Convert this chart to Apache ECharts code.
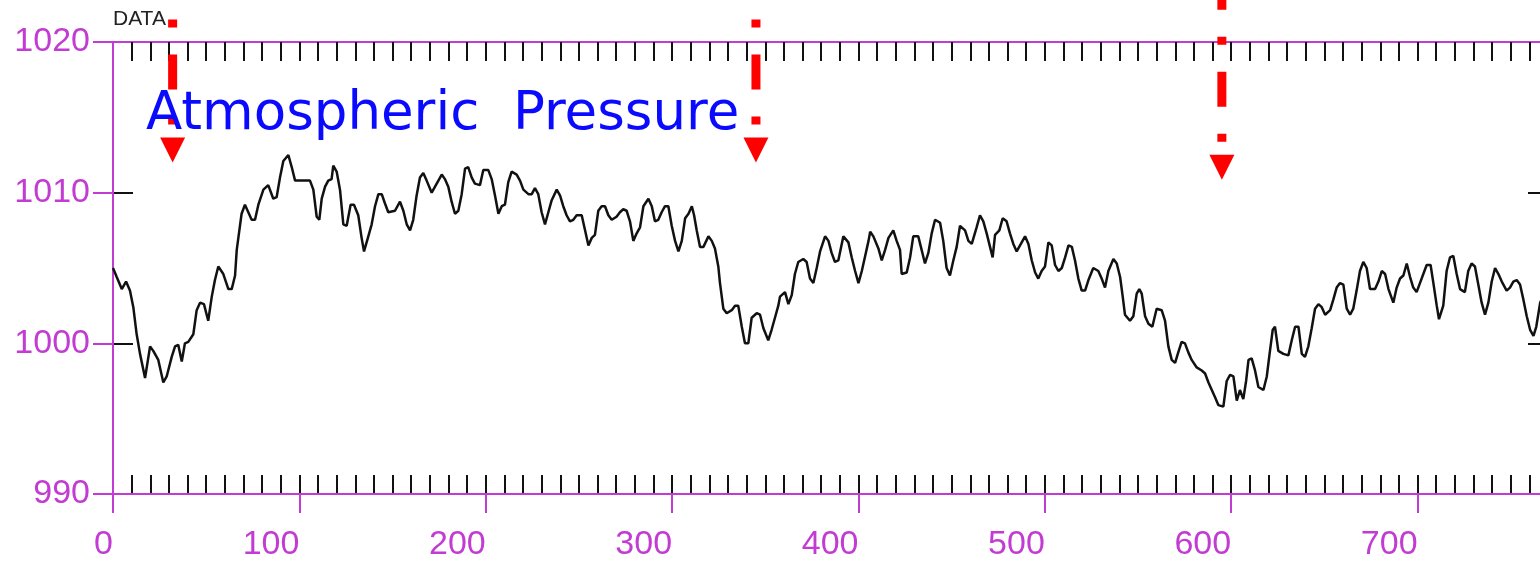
<!DOCTYPE html>
<html>
<head>
<meta charset="utf-8">
<script src="https://cdn.jsdelivr.net/npm/echarts@6/dist/echarts.min.js"></script>
<style>
html, body { margin: 0; padding: 0; background: #ffffff; }
#chart { width: 1540px; height: 563px; }
</style>
</head>
<body>
<div id="chart"></div>
<script>
// Hourly station record: time (hours) and sea-level pressure (hPa)
const hours = [
  0, 2, 4.7, 7, 9.1, 10.9, 12.7, 14.5, 17.2, 19.9, 21.6, 24.3, 27, 28.8, 31.5, 33.3, 35, 36.9, 38.6, 40.4,
  43.1, 44.9, 46.7, 48.8, 51.1, 53, 54.7, 56.5, 59.2, 61.9, 63.7, 65.5, 66.4, 67.8, 69, 70.8, 72.6, 74.4, 76.2, 78,
  80.7, 83.3, 86, 87.8, 89.6, 91.4, 94.1, 95.9, 97.7, 100.3, 105.7, 107.5, 109.3, 110.7, 112, 113.8, 115.5, 117.3, 118.2, 120,
  121.8, 123.6, 125.4, 127.5, 129.3, 131.6, 133.4, 134.7, 137, 138.8, 140.6, 142.4, 144.2, 145.9, 147.7, 151.3, 154, 155.8, 157.6, 159.4,
  161.1, 162.9, 164.7, 166.5, 168.3, 171, 172.8, 174.6, 176.4, 178.1, 179.9, 181.7, 183.5, 185.3, 187.1, 188.9, 190.6, 192.5, 194.2, 196.9,
  198.7, 201.4, 203.2, 205, 206.8, 208.6, 210.3, 212.1, 213.9, 216.6, 218.4, 220.2, 222.9, 224.7, 226.4, 228.2, 230, 231.8, 233.6, 235.4,
  238.1, 239.9, 241.6, 243.4, 245.2, 247, 248.8, 251.5, 253.3, 255.1, 256.9, 258.6, 260.4, 262.2, 264, 265.8, 267.6, 270.2, 272, 273.8,
  275.6, 277.4, 279.2, 281, 282.8, 284.6, 287.3, 289.1, 290.8, 292.6, 294.4, 296.2, 298, 299.8, 301.6, 303.4, 305.2, 307, 308.8, 310.6,
  311.8, 313.2, 315, 316.8, 319.5, 321.3, 323, 324.8, 325.7, 327.5, 329.3, 332, 333.8, 335.5, 337.4, 339.1, 340.9, 342.7, 345.4, 347.2,
  349, 351.6, 353.4, 355.2, 357, 357.9, 360.6, 362.4, 364.2, 365.9, 367.7, 370.4, 372.2, 374, 375.8, 377.6, 379.4, 382.1, 383.9, 385.6,
  387.4, 389.2, 391.9, 394.6, 396.4, 398.2, 400, 401.8, 403.6, 405.4, 406.3, 408, 410.7, 412.5, 414.3, 416.1, 418.7, 420.5, 422.3, 423.2,
  425.9, 427.7, 429.4, 432.1, 433.9, 435.7, 437.5, 439.3, 441.1, 443.8, 445.5, 447.3, 449.1, 450.9, 452.7, 454.5, 457.2, 459, 460.8, 463.4,
  465.2, 467, 468.8, 470.6, 472, 473.3, 475.6, 477.4, 479.5, 481.3, 483.1, 484.9, 486.7, 489.4, 491.2, 493, 494.8, 496.5, 498.3, 500.1,
  501.9, 503.7, 505.5, 507.3, 509.1, 510.9, 512.7, 514.5, 516.2, 518, 519.8, 521.6, 523.4, 526, 528.7, 530.5, 532.3, 534.1, 536.8, 538.6,
  540.4, 541.8, 543, 545.7, 547.5, 549.3, 550.7, 552, 553.8, 555.6, 557.7, 560, 562.7, 564.5, 566.3, 568.1, 569.9, 571.6, 573.4, 575.2,
  577, 578.8, 581.5, 584.2, 586, 587.8, 589.6, 591.4, 593.1, 595.8, 597.6, 599.4, 601.2, 603, 604.7, 606.5, 608, 609.3, 611, 612.8,
  614.6, 617.3, 619.1, 620.5, 622.3, 623.5, 625.3, 628, 630.7, 632.5, 634.3, 636.1, 637.9, 639.6, 641.4, 643.2, 645, 646.8, 648.6, 650.4,
  653.1, 654.8, 656.6, 658.4, 660.2, 662, 663.8, 665.5, 667.3, 669.1, 670.9, 672.7, 674.5, 677.2, 679, 680.8, 682.6, 684.4, 687, 688.8,
  690.6, 692.4, 694.2, 696, 697.7, 699.5, 701.3, 703.1, 704.9, 707, 708.5, 710.3, 711.5, 713.8, 715.6, 717.4, 719.2, 721, 722.8, 725.4,
  727.2, 729, 730.8, 732.6, 734.4, 736.2, 738, 739.8, 741.6, 743.4, 745.2, 747.8, 749.6, 751.4, 753.2, 755, 756.8, 758.6, 760.4, 762.2,
  763.7, 765.8, 768
];
const pressure = [
  1005.0, 1004.4, 1003.6, 1004.1, 1003.5, 1002.4, 1000.6, 999.3, 997.7, 999.8, 999.5, 998.9, 997.4, 997.8, 999.1, 999.8, 999.9, 998.8, 1000.0, 1000.1,
  1000.6, 1002.2, 1002.7, 1002.6, 1001.5, 1003.1, 1004.2, 1005.1, 1004.6, 1003.6, 1003.6, 1004.5, 1006.2, 1007.5, 1008.6, 1009.2, 1008.7, 1008.2, 1008.2, 1009.2,
  1010.2, 1010.5, 1009.6, 1009.7, 1011.0, 1012.1, 1012.5, 1011.7, 1010.8, 1010.8, 1010.8, 1010.2, 1008.4, 1008.2, 1009.6, 1010.4, 1010.8, 1010.9, 1011.8, 1011.4,
  1010.2, 1007.9, 1007.8, 1009.2, 1009.2, 1008.5, 1007.0, 1006.1, 1007.1, 1007.9, 1009.1, 1009.9, 1009.9, 1009.3, 1008.7, 1008.8, 1009.4, 1008.8, 1007.9, 1007.5,
  1008.2, 1009.8, 1011.0, 1011.3, 1010.8, 1010.0, 1010.4, 1010.8, 1011.2, 1010.9, 1010.4, 1009.4, 1008.6, 1008.8, 1009.9, 1011.6, 1011.7, 1011.0, 1010.6, 1010.5,
  1011.5, 1011.5, 1010.9, 1009.8, 1008.6, 1009.1, 1009.2, 1010.7, 1011.4, 1011.2, 1010.8, 1010.2, 1009.9, 1009.9, 1010.3, 1009.9, 1008.7, 1007.9, 1008.7, 1009.5,
  1010.2, 1009.8, 1009.1, 1008.5, 1008.1, 1008.2, 1008.5, 1008.5, 1007.5, 1006.5, 1007.0, 1007.2, 1008.8, 1009.1, 1009.1, 1008.5, 1008.2, 1008.4, 1008.7, 1008.9,
  1008.8, 1008.1, 1006.8, 1007.3, 1007.7, 1009.1, 1009.6, 1009.1, 1008.1, 1008.2, 1008.7, 1009.1, 1009.1, 1007.8, 1006.8, 1006.1, 1006.8, 1008.3, 1008.6, 1009.1,
  1008.5, 1007.5, 1006.4, 1006.4, 1007.1, 1006.8, 1006.3, 1005.1, 1004.0, 1002.3, 1002.0, 1002.2, 1002.5, 1002.5, 1001.1, 1000.0, 1000.0, 1001.7, 1002.0, 1001.9,
  1001.0, 1000.2, 1000.9, 1001.7, 1002.5, 1003.1, 1003.4, 1002.6, 1003.2, 1004.6, 1005.4, 1005.6, 1005.4, 1004.3, 1004.0, 1005.0, 1006.1, 1007.1, 1006.8, 1006.0,
  1005.4, 1005.5, 1007.1, 1006.7, 1005.7, 1004.8, 1004.0, 1004.8, 1005.8, 1006.8, 1007.4, 1007.1, 1006.3, 1005.5, 1006.2, 1007.0, 1007.5, 1006.8, 1006.2, 1004.6,
  1004.7, 1005.7, 1007.1, 1007.1, 1006.2, 1005.3, 1006.0, 1007.3, 1008.2, 1008.0, 1006.8, 1005.0, 1004.5, 1005.5, 1006.4, 1007.8, 1007.5, 1006.8, 1006.6, 1007.7,
  1008.5, 1008.1, 1007.3, 1006.4, 1005.7, 1007.2, 1007.5, 1008.3, 1008.1, 1007.3, 1006.6, 1006.1, 1006.5, 1007.1, 1006.6, 1005.5, 1004.7, 1004.3, 1004.8, 1005.1,
  1006.7, 1006.5, 1005.2, 1004.8, 1005.0, 1005.7, 1006.5, 1006.4, 1005.5, 1004.3, 1003.5, 1003.5, 1004.2, 1005.0, 1004.8, 1004.3, 1003.7, 1004.8, 1005.6, 1005.3,
  1004.4, 1003.1, 1001.9, 1001.5, 1001.8, 1003.3, 1003.6, 1003.3, 1001.8, 1001.3, 1001.1, 1002.3, 1002.2, 1001.5, 999.8, 998.9, 998.7, 999.4, 1000.1, 1000.0,
  999.4, 998.9, 998.4, 998.2, 998.0, 997.4, 996.9, 996.4, 995.9, 995.8, 997.5, 997.9, 997.8, 996.2, 996.9, 996.3, 997.5, 998.9, 999.0, 998.2,
  997.1, 996.9, 997.8, 999.2, 1000.9, 1001.1, 999.5, 999.3, 999.2, 1000.2, 1001.1, 1001.1, 999.3, 999.1, 999.8, 1001.0, 1002.3, 1002.6, 1002.4, 1001.9,
  1002.2, 1002.9, 1003.7, 1004.0, 1003.9, 1002.3, 1001.9, 1002.3, 1003.5, 1004.8, 1005.4, 1005.0, 1003.6, 1003.6, 1004.1, 1004.8, 1004.6, 1003.6, 1002.7, 1003.7,
  1004.3, 1004.5, 1005.3, 1004.4, 1003.7, 1003.4, 1004.0, 1004.6, 1005.2, 1005.2, 1004.0, 1002.5, 1001.6, 1002.5, 1004.8, 1005.7, 1005.8, 1004.6, 1003.6, 1003.4,
  1004.8, 1005.3, 1005.1, 1003.9, 1002.7, 1001.9, 1002.7, 1004.1, 1005.0, 1004.6, 1004.1, 1003.5, 1003.7, 1004.1, 1004.2, 1003.9, 1002.9, 1001.8, 1000.9, 1000.5,
  1001.1, 1002.7, 1003.3
];

// Marked pressure minima: hour, start level of the shaft, level of the arrow tip
const markHours = [32, 345, 595];
const markFrom = [1021.5, 1021.5, 1024.45];
const markTip = [1012.0, 1012.0, 1010.85];

const chartTitle = 'Atmospheric  Pressure';
const valueName = 'DATA';

const MAGENTA = '#c23bd2';
const INK = '#111111';
const RED = '#ff0000';
const LABEL_FONT = '"Liberation Sans", Arial, Helvetica, sans-serif';

const chart = echarts.init(document.getElementById('chart'), null, { renderer: 'canvas' });

const curve = hours.map((h, i) => [h, pressure[i]]);
const marks = markHours.map((h, i) => [h, markFrom[i], markTip[i]]);

// Dash-dot shaft with a filled triangular head, positioned through the axes
function renderMark(params, api) {
  const h = api.value(0);
  const from = api.coord([h, api.value(1)]);
  const tip = api.coord([h, api.value(2)]);
  const headH = 25, headW = 25, gap = 13;
  const headTop = tip[1] - headH;
  const shaftEnd = headTop - gap;
  return {
    type: 'group',
    children: [
      {
        type: 'line',
        shape: { x1: tip[0], y1: shaftEnd, x2: from[0], y2: from[1] },
        style: { stroke: RED, lineWidth: 9, lineDash: [8, 27, 35, 27], lineCap: 'butt', fill: null }
      },
      {
        type: 'polygon',
        shape: { points: [[tip[0] - headW / 2, headTop], [tip[0] + headW / 2, headTop], [tip[0], tip[1]]] },
        style: { fill: RED }
      }
    ]
  };
}

const hiddenLabel = { show: false };
const plainNumber = (v) => String(v);

chart.setOption({
  animation: false,
  backgroundColor: '#ffffff',
  title: {
    text: chartTitle,
    left: 141,
    top: 84,
    textStyle: {
      color: '#0a0aff',
      fontFamily: '"DejaVu Sans", Verdana, sans-serif',
      fontWeight: 'normal',
      fontSize: 53,
      lineHeight: 53
    }
  },
  grid: { left: 113, top: 42, width: 1435, height: 452, containLabel: false, outerBoundsMode: 'none' },
  xAxis: [
    {
      type: 'value', position: 'bottom', min: 0, max: 770, interval: 100, z: 3,
      axisLine: { show: true, onZero: false, lineStyle: { color: MAGENTA, width: 2 } },
      axisTick: { show: true, inside: false, length: 19, lineStyle: { color: MAGENTA, width: 2 } },
      axisLabel: {
        color: MAGENTA, fontSize: 34, fontFamily: LABEL_FONT, margin: 34,
        align: 'right', lineHeight: 34, showMaxLabel: false, formatter: plainNumber
      },
      splitLine: { show: false }
    },
    {
      type: 'value', position: 'bottom', min: 0, max: 770, interval: 10, z: 1,
      axisLine: { show: false, onZero: false },
      axisTick: { show: true, inside: true, length: 19, lineStyle: { color: INK, width: 2 } },
      axisLabel: hiddenLabel,
      splitLine: { show: false }
    },
    {
      type: 'value', position: 'top', min: 0, max: 770, interval: 10, z: 2,
      axisLine: { show: true, onZero: false, lineStyle: { color: MAGENTA, width: 2 } },
      axisTick: { show: true, inside: true, length: 19, lineStyle: { color: INK, width: 2 } },
      axisLabel: hiddenLabel,
      splitLine: { show: false }
    }
  ],
  yAxis: [
    {
      type: 'value', position: 'left', min: 990, max: 1020, interval: 10, z: 3,
      name: valueName,
      nameLocation: 'end',
      nameGap: 12,
      nameTextStyle: {
        color: '#222222', fontSize: 21, fontFamily: LABEL_FONT,
        align: 'left', verticalAlign: 'bottom', lineHeight: 21
      },
      axisLine: { show: true, onZero: false, lineStyle: { color: MAGENTA, width: 2 } },
      axisTick: { show: true, inside: false, length: 20, lineStyle: { color: MAGENTA, width: 2 } },
      axisLabel: { color: MAGENTA, fontSize: 34, fontFamily: LABEL_FONT, margin: 23, formatter: plainNumber },
      splitLine: { show: false }
    },
    {
      type: 'value', position: 'left', min: 990, max: 1020, interval: 10, z: 1,
      axisLine: { show: false, onZero: false },
      axisTick: { show: true, inside: true, length: 20, lineStyle: { color: INK, width: 2 } },
      axisLabel: hiddenLabel,
      splitLine: { show: false }
    },
    {
      type: 'value', position: 'right', min: 990, max: 1020, interval: 10, z: 1,
      axisLine: { show: false, onZero: false },
      axisTick: { show: true, inside: true, length: 20, lineStyle: { color: INK, width: 2 } },
      axisLabel: hiddenLabel,
      splitLine: { show: false }
    }
  ],
  series: [
    {
      type: 'line',
      name: 'pressure',
      xAxisIndex: 0,
      yAxisIndex: 0,
      data: curve,
      showSymbol: false,
      symbol: 'none',
      smooth: false,
      lineStyle: { color: INK, width: 2.5 },
      z: 4
    },
    {
      type: 'custom',
      name: 'minima',
      xAxisIndex: 0,
      yAxisIndex: 0,
      data: marks,
      encode: { x: 0, y: [1, 2] },
      renderItem: renderMark,
      clip: false,
      silent: true,
      z: 5
    }
  ]
});
</script>
</body>
</html>
